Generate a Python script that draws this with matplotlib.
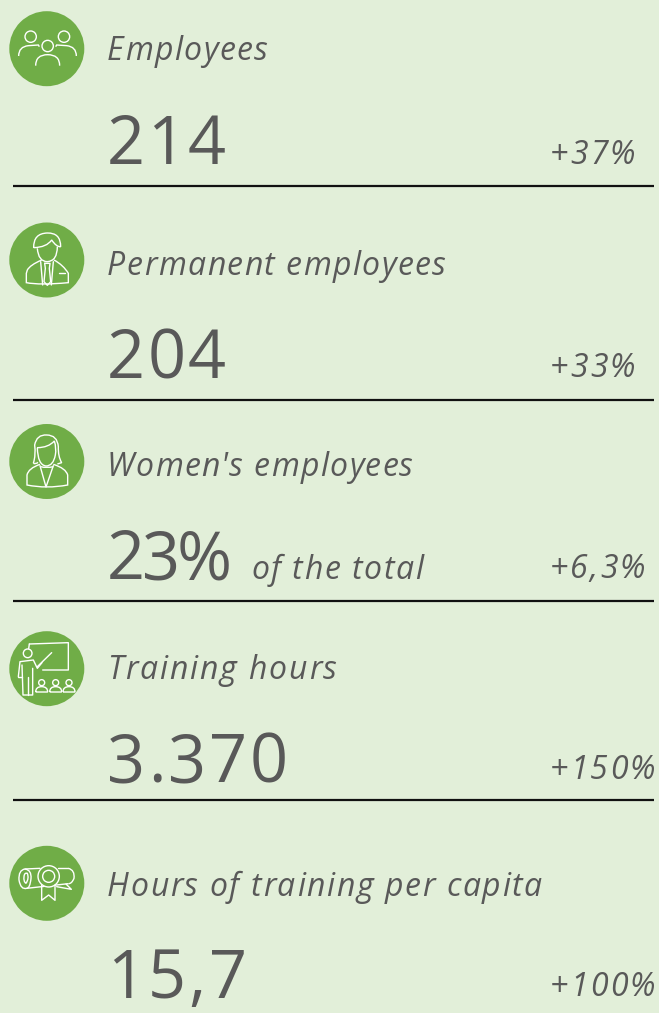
import matplotlib
matplotlib.use("Agg")
import matplotlib.pyplot as plt
from matplotlib.patches import Circle, PathPatch
from matplotlib.path import Path

# data
titles = ["Employees", "Permanent employees", "Women's employees", "Training hours", "Hours of training per capita"]
values = ["214", "204", "23%", "3.370", "15,7"]
changes = ["+37%", "+33%", "+6,3%", "+150%", "+100%"]
note = "of the total"

# baselines and right ends of the texts, in pixels
title_y = [60, 275, 476, 679, 896]
title_end = [268, 446, 413, 337, 542]
value_y = [164, 378, 579, 782, 998]
value_end = [226, 226, 232, 288, 247]
change_y = [164, 377, 578, 779, 996]
change_end = [635, 635, 645, 655, 655]
rule_y = [186, 400, 601, 800]
icon_y = [48.7, 260, 461.5, 668.7, 883.3]
crop_y = [0, 210, 415, 620, 835]

BG = "#e2efd9"
GREEN = "#70ad47"
GREY = "#595959"
FONT = "Open Sans"

fig = plt.figure(figsize=(6.59, 10.13), dpi=100, facecolor=BG)
ax = fig.add_axes([0, 0, 1, 1])
ax.set_xlim(0, 659)
ax.set_ylim(1013, 0)
ax.axis("off")


def spaced(x, x_end, y, s, size, style="italic", weight="normal"):
    # matplotlib has no letter spacing, so place letter by letter up to x_end
    r = fig.canvas.get_renderer()
    kw = dict(fontsize=size, family=FONT, style=style, weight=weight)

    def width(part):
        t = ax.text(0, 0, part + "|", **kw)
        b = ax.text(0, 0, "|", **kw)
        w = t.get_window_extent(r).width - b.get_window_extent(r).width
        t.remove()
        b.remove()
        return w

    gap = (x_end - x - width(s)) / max(len(s) - 1, 1)
    for i, c in enumerate(s):
        ax.text(x + width(s[:i]) + i * gap, y, c, color=GREY, va="baseline", ha="left", **kw)


# icons are drawn in the coordinates of a 3x crop
def ln(y0, pts):
    ax.plot([p[0] / 3 for p in pts], [y0 + p[1] / 3 for p in pts], color="white", lw=1.0,
            solid_capstyle="round", solid_joinstyle="round")


def cv(y0, start, *segs):
    verts = [(start[0] / 3, y0 + start[1] / 3)]
    codes = [Path.MOVETO]
    for s in segs:
        for p in s:
            verts.append((p[0] / 3, y0 + p[1] / 3))
            codes.append(Path.CURVE3 if len(s) == 2 else Path.LINETO)
    ax.add_patch(PathPatch(Path(verts, codes), fc="none", ec="white", lw=1.0))


def ring(y0, x, y, r, lw=1.0):
    ax.add_patch(Circle((x / 3, y0 + y / 3), r / 3, fc="none", ec="white", lw=lw))


def icon_people(y0):
    ring(y0, 92, 110, 17)
    ring(y0, 192, 110, 17)
    ring(y0, 143, 138, 17)
    cv(y0, (56, 168), [(56, 140), (85, 137)], [(115, 135)], [(118, 140)])
    cv(y0, (229, 168), [(229, 140), (200, 137)], [(170, 135)], [(167, 140)])
    cv(y0, (107, 197), [(107, 164), (143, 164)], [(179, 164), (179, 197)])


def icon_man(y0):
    cv(y0, (101, 113), [(100, 70), (142, 69)], [(182, 68), (182, 110)], [(170, 112), (155, 90)],
       [(140, 112), (101, 113)])
    cv(y0, (112, 115), [(115, 155), (142, 155)], [(172, 153), (172, 110)])
    cv(y0, (125, 150), [(90, 165), (82, 180)], [(79, 190)], [(79, 218)], [(120, 226), (205, 218)],
       [(205, 190)], [(190, 165), (162, 150)])
    ln(y0, [(122, 155), (128, 225)])
    ln(y0, [(160, 155), (154, 225)])
    ln(y0, [(134, 160), (150, 160), (148, 175), (152, 215), (142, 226), (132, 215), (136, 175), (134, 160)])
    ln(y0, [(176, 190), (194, 190)])


def icon_woman(y0):
    cv(y0, (100, 145), [(108, 120), (104, 90)], [(110, 58), (140, 60)], [(172, 60), (175, 95)],
       [(174, 125), (185, 143)], [(172, 147)])
    cv(y0, (100, 145), [(108, 148), (114, 142)])
    cv(y0, (112, 98), [(145, 98), (163, 78)], [(170, 100), (166, 120)], [(160, 153), (138, 153)],
       [(113, 150), (112, 98)])
    cv(y0, (120, 148), [(85, 160), (81, 180)], [(81, 210)], [(140, 222), (203, 210)], [(203, 180)],
       [(198, 160), (160, 148)])
    ln(y0, [(120, 152), (138, 216), (160, 152)])
    cv(y0, (122, 155), [(140, 160), (160, 155)])


def icon_teacher(y0):
    ln(y0, [(88, 72), (205, 68), (205, 150), (128, 150)])
    ln(y0, [(88, 72), (86, 86)])
    ln(y0, [(112, 140), (155, 98)])
    ring(y0, 83, 100, 13)
    ln(y0, [(55, 170), (60, 125), (100, 120), (112, 145), (126, 128)])
    ln(y0, [(66, 135), (69, 225), (98, 225), (98, 145)])
    ln(y0, [(83, 170), (83, 225)])
    ln(y0, [(55, 170), (65, 170)])
    for x in [125, 167, 207]:
        ring(y0, x, 188, 9)
        cv(y0, (x - 18, 216), [(x - 18, 200), (x, 200)], [(x + 18, 200), (x + 18, 216)], [(x - 18, 216)])


def icon_diploma(y0):
    cv(y0, (75, 102), [(55, 105), (57, 135)], [(62, 165), (80, 160)], [(205, 146)])
    cv(y0, (75, 102), [(95, 105), (93, 130)], [(90, 160), (80, 160)])
    cv(y0, (72, 125), [(73, 112), (82, 115)], [(88, 130), (78, 145)], [(70, 140), (72, 125)])
    ln(y0, [(75, 102), (120, 100)])
    ln(y0, [(175, 100), (205, 100)])
    cv(y0, (205, 100), [(225, 105), (222, 130)], [(215, 147), (205, 146)])
    ln(y0, [(198, 147), (214, 163), (170, 155)])
    ax.add_patch(Circle((146 / 3, y0 + 124 / 3), 32 / 3, fc=GREEN, ec="white", lw=1.0))
    ring(y0, 146, 124, 18)
    ln(y0, [(125, 150), (125, 196), (146, 180), (165, 196), (165, 150)])


icons = [icon_people, icon_man, icon_woman, icon_teacher, icon_diploma]

for i in range(5):
    ax.add_patch(Circle((46.8, icon_y[i]), 37.5, fc=GREEN, ec="none"))
    icons[i](crop_y[i])
    spaced(107, title_end[i], title_y[i], titles[i], 23)
    spaced(107, value_end[i], value_y[i], values[i], 48, style="normal")
    spaced(550, change_end[i], change_y[i], changes[i], 23)

spaced(251, 423, 579, note, 23)

for y in rule_y:
    ax.plot([13, 654], [y, y], color="#111111", lw=1.6, solid_capstyle="butt")

fig.savefig("out.png", dpi=100, facecolor=BG)
